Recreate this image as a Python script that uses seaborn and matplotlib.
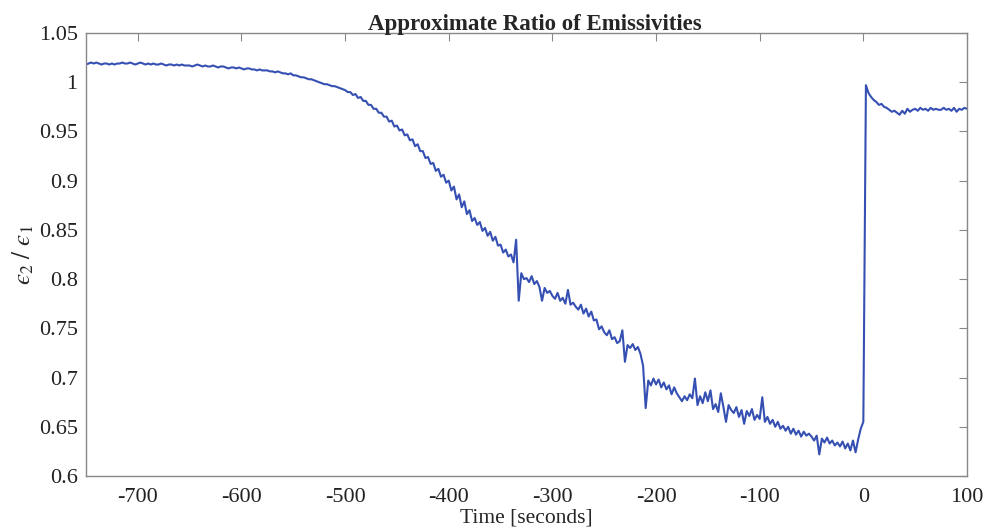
from matplotlib import pyplot as plt
from matplotlib.ticker import FuncFormatter
import seaborn as sns
import numpy as np

# time grid, seconds (2.5 s spacing, -750 .. 100)
time = np.arange(-750, 100.1, 2.5)

# emissivity ratio, one row per 25 s
ratio = [
    1.018, 1.019, 1.020, 1.019, 1.020, 1.019, 1.018, 1.019, 1.019, 1.018,
    1.019, 1.018, 1.019, 1.019, 1.020, 1.019, 1.019, 1.020, 1.019, 1.018,
    1.019, 1.020, 1.019, 1.018, 1.019, 1.018, 1.019, 1.018, 1.018, 1.019,
    1.018, 1.017, 1.018, 1.018, 1.017, 1.018, 1.017, 1.018, 1.017, 1.017,
    1.017, 1.016, 1.017, 1.018, 1.017, 1.016, 1.017, 1.016, 1.016, 1.017,
    1.016, 1.015, 1.016, 1.016, 1.015, 1.014, 1.015, 1.015, 1.014, 1.015,
    1.014, 1.013, 1.014, 1.014, 1.013, 1.013, 1.012, 1.013, 1.012, 1.012,
    1.012, 1.011, 1.011, 1.010, 1.011, 1.010, 1.009, 1.009, 1.008, 1.009,
    1.007, 1.007, 1.006, 1.005, 1.005, 1.004, 1.003, 1.003, 1.002, 1.001,
    1.000, 0.999, 0.998, 0.998, 0.997, 0.996, 0.996, 0.995, 0.994, 0.993,
    0.992, 0.990, 0.990, 0.987, 0.988, 0.984, 0.985, 0.981, 0.981, 0.977,
    0.977, 0.973, 0.973, 0.969, 0.969, 0.965, 0.965, 0.960, 0.961, 0.955,
    0.956, 0.951, 0.952, 0.946, 0.947, 0.941, 0.942, 0.935, 0.937, 0.930,
    0.930, 0.923, 0.924, 0.917, 0.918, 0.910, 0.912, 0.904, 0.906, 0.898,
    0.900, 0.890, 0.894, 0.881, 0.886, 0.873, 0.879, 0.866, 0.870, 0.859,
    0.862, 0.855, 0.858, 0.849, 0.852, 0.844, 0.848, 0.839, 0.843, 0.834,
    0.835, 0.827, 0.830, 0.823, 0.825, 0.817, 0.840, 0.778, 0.806, 0.800,
    0.801, 0.797, 0.803, 0.795, 0.798, 0.792, 0.778, 0.791, 0.786, 0.788,
    0.783, 0.780, 0.786, 0.778, 0.781, 0.775, 0.789, 0.774, 0.776, 0.772,
    0.769, 0.774, 0.765, 0.770, 0.762, 0.767, 0.758, 0.759, 0.749, 0.752,
    0.746, 0.743, 0.748, 0.739, 0.741, 0.735, 0.737, 0.748, 0.716, 0.733,
    0.730, 0.734, 0.728, 0.731, 0.724, 0.712, 0.669, 0.697, 0.692, 0.699,
    0.693, 0.698, 0.690, 0.695, 0.688, 0.692, 0.683, 0.690, 0.684, 0.680,
    0.676, 0.681, 0.677, 0.683, 0.679, 0.699, 0.672, 0.681, 0.674, 0.685,
    0.676, 0.687, 0.668, 0.673, 0.665, 0.684, 0.670, 0.655, 0.672, 0.667,
    0.664, 0.670, 0.660, 0.667, 0.653, 0.666, 0.661, 0.668, 0.657, 0.662,
    0.658, 0.680, 0.655, 0.660, 0.653, 0.657, 0.650, 0.655, 0.648, 0.651,
    0.646, 0.650, 0.643, 0.648, 0.642, 0.646, 0.640, 0.645, 0.641, 0.643,
    0.640, 0.636, 0.641, 0.622, 0.638, 0.634, 0.639, 0.633, 0.636, 0.631,
    0.634, 0.630, 0.635, 0.628, 0.633, 0.626, 0.636, 0.624, 0.637, 0.648,
    0.655, 0.997, 0.989, 0.985, 0.982, 0.980, 0.977, 0.978, 0.975, 0.974,
    0.972, 0.970, 0.971, 0.969, 0.967, 0.971, 0.968, 0.973, 0.970, 0.972,
    0.973, 0.971, 0.974, 0.972, 0.973, 0.971, 0.974, 0.972, 0.973, 0.972,
    0.972, 0.974, 0.972, 0.973, 0.971, 0.974, 0.970, 0.973, 0.972, 0.974,
    0.973,
]

xticks = [-700, -600, -500, -400, -300, -200, -100, 0, 100]
yticks = [0.6, 0.65, 0.7, 0.75, 0.8, 0.85, 0.9, 0.95, 1.0, 1.05]

sns.set_style('white')
plt.rcParams['font.family'] = ['Liberation Serif', 'DejaVu Serif']
plt.rcParams['mathtext.fontset'] = 'stix'
plt.rcParams['axes.unicode_minus'] = False

fig = plt.figure(figsize=(9.84, 5.29), dpi=100)
ax = fig.add_axes([0.0874, 0.1002, 0.8953, 0.8374])
sns.lineplot(x=time, y=ratio, ax=ax, color='#3550b2', linewidth=1.5,
             errorbar=None)

ax.set_xlim(-750, 100)
ax.set_ylim(0.6, 1.05)
ax.set_xticks(xticks)
ax.set_yticks(yticks)
ax.yaxis.set_major_formatter(FuncFormatter(lambda v, p: '%g' % round(v, 2)))
ax.tick_params(direction='in', length=6, width=0.8, color='#888888',
               labelsize=16, labelcolor='#222222',
               top=True, right=True, pad=6)
ax.tick_params(axis='x', pad=9)
for s in ax.spines.values():
    s.set_color('#888888')
    s.set_linewidth(1.0)

ax.set_title('Approximate Ratio of Emissivities', fontsize=16.5,
             fontweight='bold', pad=2, x=0.509)
ax.set_xlabel('Time [seconds]', fontsize=15.5, labelpad=1)
ax.set_ylabel('$\u03f5_2\\ /\\ \u03f5_1$', fontsize=18, labelpad=2)

fig.savefig('out.png', dpi=100)
